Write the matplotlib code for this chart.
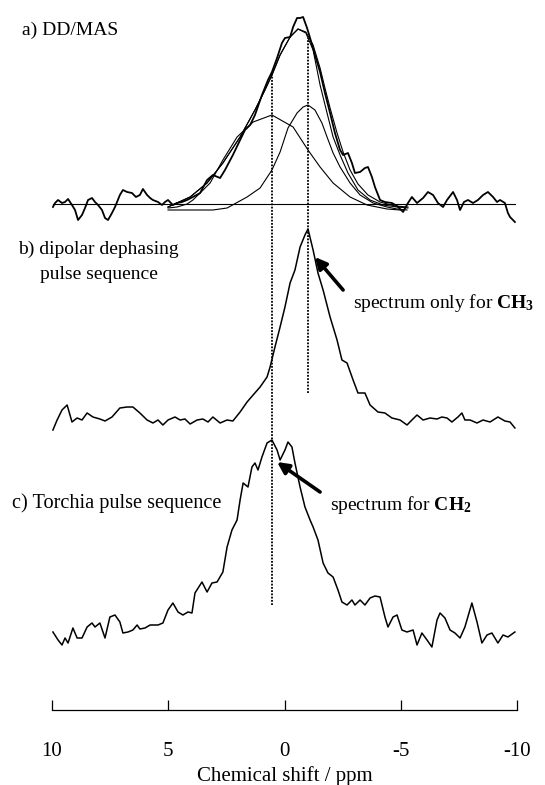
import numpy as np
import matplotlib
matplotlib.use("Agg")
import matplotlib.pyplot as plt

plt.rcParams['font.family'] = ['Liberation Serif', 'DejaVu Serif']
plt.rcParams['mathtext.fontset'] = 'custom'
plt.rcParams['mathtext.rm'] = 'Liberation Serif'
plt.rcParams['mathtext.bf'] = 'Liberation Serif:bold'

# a) DD/MAS spectrum (ppm, intensity a.u.)
a_ppm = [9.96, 9.87, 9.74, 9.57, 9.44, 9.31, 9.14, 9.01, 8.88, 8.71, 8.58, 8.45, 8.28, 8.15,
         8.02, 7.85, 7.72, 7.59, 7.42, 7.29, 7.08, 6.95, 6.77, 6.56, 6.39, 6.22, 6.09, 5.91,
         5.78, 5.66, 5.44, 5.27, 5.14, 5.01, 4.80, 4.62, 4.41, 4.19, 3.94, 3.63, 3.33, 3.08,
         2.77, 2.56, 2.22, 1.91, 1.70, 1.48, 1.27, 0.97, 0.71, 0.54, 0.32, 0.11, -0.02, -0.24,
         -0.37, -0.54, -0.67, -0.80, -0.97, -1.10, -1.31, -1.53, -1.74, -1.96, -2.17, -2.39,
         -2.52, -2.73, -2.90, -3.03, -3.25, -3.46, -3.59, -3.76, -3.89, -4.11, -4.32, -4.62,
         -4.84, -5.10, -5.31, -5.48, -5.70, -5.96, -6.17, -6.39, -6.60, -6.82, -6.99, -7.25,
         -7.42, -7.55, -7.72, -7.89, -8.11, -8.32, -8.54, -8.75, -8.97, -9.14, -9.27, -9.48,
         -9.61, -9.70, -9.91]
a_int = [-3, 1, 4, 1, 2, 5, -1, -6, -16, -11, -4, 4, 6, 2,
         -1, -6, -14, -16, -9, -3, 9, 14, 12, 11, 7, 9, 15, 9,
         6, 4, 2, -1, 2, 4, -1, 1, 2, 4, 7, 11, 24, 29,
         26, 34, 49, 64, 74, 79, 89, 109, 124, 132, 146, 161, 166, 167,
         177, 186, 186, 187, 176, 166, 149, 132, 111, 91, 71, 54,
         49, 51, 41, 31, 32, 36, 37, 27, 17, 4, 2, 1,
         -2, -8, 1, 7, 1, 6, 12, 9, 1, -3, 4, 12,
         4, -6, 2, 4, 1, 4, 9, 12, 7, 2, 4, 1,
         -9, -13, -18]

# deconvolution of a): CH2 and CH3 components and fitted sums
ch2_ppm = [5.01, 4.62, 4.19, 3.94, 3.63, 3.20, 2.65, 2.04, 1.35, 0.54, -0.37, -1.01, -1.53,
           -2.09, -2.82, -3.55, -4.41, -4.97]
ch2_int = [-4, -3, 0, 4, 11, 21, 44, 67, 82, 89, 77, 54, 37, 21, 7, -1, -5, -6]
ch3_ppm = [5.01, 3.08, 2.47, 1.61, 1.05, 0.54, 0.19, -0.15, -0.54, -0.80, -1.01, -1.31, -1.61,
           -1.83, -2.09, -2.39, -2.82, -3.25, -3.81, -4.41, -4.84, -5.27]
ch3_int = [-6, -6, -4, 7, 16, 34, 52, 76, 91, 97, 99, 94, 81, 67, 51, 37, 21, 9, 1, -3, -5, -6]
fit1_ppm = [5.01, 4.06, 3.33, 2.65, 1.91, 1.27, 0.84, 0.54, 0.19, -0.24, -0.58, -0.92, -1.23,
            -1.53, -1.83, -2.09, -2.39, -2.73, -3.16, -3.68, -4.24, -4.84, -5.31]
fit1_int = [-3, 7, 21, 41, 67, 94, 114, 129, 149, 167, 175, 171, 154,
            119, 91, 67, 49, 31, 14, 4, -1, -3, -4]
fit2_ppm = [5.01, 4.06, 3.33, 2.65, 1.91, 1.27, 0.84, 0.54, 0.19, -0.24, -0.58, -0.92, -1.23,
            -1.53, -1.74, -1.96, -2.26, -2.52, -2.82, -3.16, -3.59, -4.11, -4.75, -5.31]
fit2_int = [-3, 7, 21, 41, 67, 94, 114, 129, 149, 167, 175, 172, 159,
            136, 116, 96, 71, 52, 34, 20, 9, 2, -2, -3]

# b) dipolar dephasing
b_ppm = [9.96, 9.78, 9.57, 9.35, 9.14, 8.92, 8.71, 8.49, 8.24, 7.94, 7.72, 7.42, 7.08, 6.77,
         6.52, 6.22, 5.91, 5.66, 5.44, 5.23, 5.01, 4.71, 4.49, 4.28, 4.06, 3.76, 3.51, 3.29,
         3.08, 2.77, 2.47, 2.22, 1.91, 1.61, 1.35, 1.05, 0.75, 0.62, 0.41, 0.19, -0.02, -0.24,
         -0.45, -0.67, -0.88, -1.01, -1.23, -1.44, -1.66, -1.96, -2.26, -2.47, -2.69, -2.95,
         -3.16, -3.46, -3.68, -4.02, -4.32, -4.62, -4.97, -5.27, -5.48, -5.70, -5.96, -6.26,
         -6.56, -6.77, -6.99, -7.20, -7.46, -7.63, -7.76, -7.98, -8.28, -8.54, -8.84, -9.18,
         -9.48, -9.70, -9.91]
b_int = [-10, 0, 10, 15, -2, 2, 0, 7, 3, 1, -1, 3, 12, 13,
         13, 7, 0, -3, 0, -5, 0, 3, 0, 1, -4, 0, 1, -2,
         3, -3, 0, -1, 8, 18, 25, 33, 43, 53, 73, 93, 113, 137,
         150, 173, 185, 191, 170, 147, 130, 103, 80, 60, 57, 40,
         27, 27, 15, 8, 7, 2, 0, -5, 0, 5, 0, 2,
         1, 3, 2, -2, 3, 7, 0, 0, -3, 0, -2, 3,
         -1, -2, -8]

# c) Torchia pulse sequence
c_ppm = [9.96, 9.74, 9.57, 9.44, 9.31, 9.10, 8.92, 8.71, 8.49, 8.28, 8.15, 7.94, 7.72, 7.51,
         7.29, 7.08, 6.95, 6.73, 6.52, 6.34, 6.22, 6.00, 5.78, 5.44, 5.23, 5.01, 4.80, 4.58,
         4.37, 4.15, 3.98, 3.85, 3.55, 3.33, 3.12, 2.90, 2.65, 2.47, 2.26, 2.04, 1.91, 1.78,
         1.57, 1.40, 1.27, 1.14, 0.97, 0.75, 0.54, 0.32, 0.19, -0.02, -0.15, -0.32, -0.45,
         -0.67, -0.88, -1.10, -1.23, -1.44, -1.66, -1.87, -2.09, -2.30, -2.47, -2.69, -2.90,
         -3.03, -3.25, -3.46, -3.68, -3.89, -4.11, -4.32, -4.45, -4.67, -4.84, -5.05, -5.27,
         -5.53, -5.70, -5.91, -6.13, -6.34, -6.56, -6.69, -6.90, -7.12, -7.33, -7.55, -7.76,
         -8.06, -8.28, -8.49, -8.71, -8.92, -9.18, -9.40, -9.61, -9.91]
c_int = [0, -8, -13, -6, -11, 4, -6, -6, 5, 9, 5, 9, -6, 15,
         17, 10, -1, 0, 2, 7, 3, 4, 7, 7, 9, 22, 29, 20,
         17, 20, 19, 39, 50, 40, 49, 50, 60, 85, 102, 112, 132, 149,
         145, 165, 169, 162, 175, 189, 192, 182, 172, 182, 190, 185, 169,
         145, 125, 112, 105, 92, 69, 59, 55, 42, 30, 27, 32,
         27, 32, 27, 34, 36, 35, 15, 5, 15, 17, 2, 0,
         2, -13, -1, -8, -15, 12, 19, 14, 2, -1, -6, 5,
         29, 10, -11, -3, -1, -11, -3, -5, 0]

peak_ch2 = 0.55
peak_ch3 = -1.02
ticks = [10, 5, 0, -5, -10]

# vertical stacking of the three spectra
off_a, off_b, off_c = 506, 290, 78

fig = plt.figure(figsize=(5.45, 7.85), dpi=100)
ax = fig.add_axes([52 / 545, 1 - 710 / 785, 465 / 545, 710 / 785])

ax.plot(a_ppm, np.array(a_int) + off_a, color="black", lw=1.3)
ax.plot([a_ppm[0], a_ppm[-1]], [off_a, off_a], color="black", lw=0.8)
ax.plot(fit1_ppm, np.array(fit1_int) + off_a, color="black", lw=0.8)
ax.plot(fit2_ppm, np.array(fit2_int) + off_a, color="black", lw=0.8)
ax.plot(ch2_ppm, np.array(ch2_int) + off_a, color="black", lw=0.8)
ax.plot(ch3_ppm, np.array(ch3_int) + off_a, color="black", lw=0.8)
ax.plot(b_ppm, np.array(b_int) + off_b, color="black", lw=1.1)
ax.plot(c_ppm, np.array(c_int) + off_c, color="black", lw=1.1)

# dotted guides through the CH2 and CH3 positions
top2 = off_a + np.interp(-peak_ch2, -np.array(a_ppm), a_int)
top3 = off_a + np.interp(-peak_ch3, -np.array(fit2_ppm), fit2_int) - 2
ax.plot([peak_ch2, peak_ch2], [off_c + 27, top2], color="black", lw=1.3, ls=(0, (1, 0.8)))
ax.plot([peak_ch3, peak_ch3], [off_b + 27, top3], color="black", lw=1.3, ls=(0, (1, 0.8)))

fig.text(22 / 545, 1 - 30 / 785, "a) DD/MAS", fontsize=14, va="center")
fig.text(18 / 545, 1 - 249 / 785, "b) dipolar dephasing", fontsize=14, va="center")
fig.text(40 / 545, 1 - 275 / 785, "pulse sequence", fontsize=14, va="center")
fig.text(12 / 545, 1 - 503 / 785, "c) Torchia pulse sequence", fontsize=14.6, va="center")

arrow = dict(arrowstyle="-|>", lw=2.6, color="black", mutation_scale=17, shrinkA=0, shrinkB=0)
ax.annotate("", xy=(-1.31, 453), xytext=(-2.52, 420), arrowprops=arrow)
ax.annotate("", xy=(0.32, 248), xytext=(-1.53, 218), arrowprops=arrow)
fig.text(353 / 545, 1 - 303 / 785, r"spectrum only for $\mathbf{CH_3}$", fontsize=14, va="center")
fig.text(330 / 545, 1 - 505 / 785, r"spectrum for $\mathbf{CH_2}$", fontsize=14, va="center")

ax.set_xlim(10, -10)
ax.set_ylim(0, 710)
for s in ["top", "left", "right"]:
    ax.spines[s].set_visible(False)
ax.spines["bottom"].set_linewidth(0.9)
ax.set_yticks([])
ax.set_xticks(ticks)
ax.set_xticklabels([str(t) for t in ticks])
ax.tick_params(axis="x", direction="in", length=7, width=0.9, pad=23, labelsize=15)
ax.set_xlabel("Chemical shift / ppm", fontsize=15)
ax.xaxis.set_label_coords(0.5, -66 / 710)
ax.xaxis.label.set_va("center")

fig.savefig("out.png", dpi=100)
